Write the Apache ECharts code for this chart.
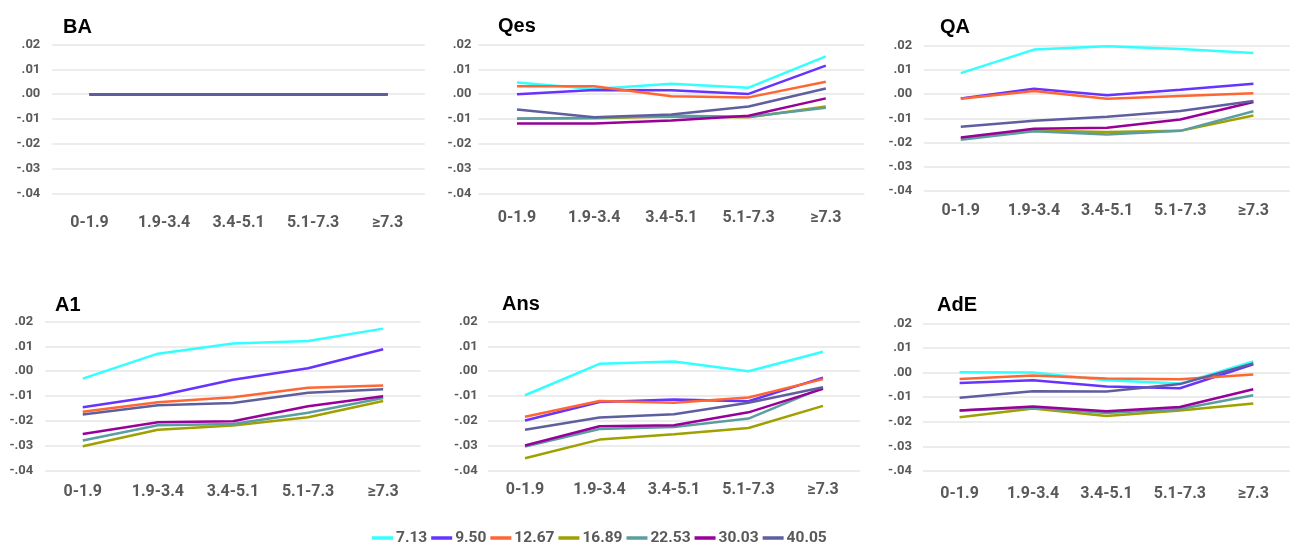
<!DOCTYPE html>
<html>
<head>
<meta charset="utf-8">
<script src="https://cdn.jsdelivr.net/npm/echarts@6/dist/echarts.min.js"></script>
<style>
html,body{margin:0;padding:0;background:#fff;}
#c{width:1290px;height:548px;}
</style>
</head>
<body>
<div id="c"></div>
<script>
// ---- data ----
const categories = ['0-1.9', '1.9-3.4', '3.4-5.1', '5.1-7.3', '≥7.3'];
const seriesNames = ['7.13', '9.50', '12.67', '16.89', '22.53', '30.03', '40.05'];
const yTickLabels = ['.02', '.01', '.00', '-.01', '-.02', '-.03', '-.04'];
const panelTitles = ['BA', 'Qes', 'QA', 'A1', 'Ans', 'AdE'];

// each panel: one array per series, in seriesNames order
const BA = [
  [0, 0, 0, 0, 0],
  [0, 0, 0, 0, 0],
  [0, 0, 0, 0, 0],
  [0, 0, 0, 0, 0],
  [0, 0, 0, 0, 0],
  [0, 0, 0, 0, 0],
  [0, 0, 0, 0, 0]
];
const Qes = [
  [0.0047, 0.0021, 0.0042, 0.0026, 0.0152],
  [0.0000, 0.0017, 0.0016, 0.0001, 0.0115],
  [0.0032, 0.0032, -0.0008, -0.0013, 0.0050],
  [-0.0098, -0.0097, -0.0090, -0.0093, -0.0050],
  [-0.0099, -0.0095, -0.0087, -0.0091, -0.0055],
  [-0.0118, -0.0118, -0.0106, -0.0087, -0.0017],
  [-0.0062, -0.0093, -0.0082, -0.0050, 0.0023]
];
const QA = [
  [0.0086, 0.0183, 0.0197, 0.0186, 0.0169],
  [-0.0018, 0.0022, -0.0005, 0.0018, 0.0042],
  [-0.0020, 0.0012, -0.0020, -0.0008, 0.0003],
  [-0.0184, -0.0152, -0.0157, -0.0152, -0.0089],
  [-0.0189, -0.0154, -0.0167, -0.0152, -0.0071],
  [-0.0179, -0.0143, -0.0139, -0.0105, -0.0033],
  [-0.0135, -0.0110, -0.0094, -0.0070, -0.0029]
];
const A1 = [
  [-0.0030, 0.0071, 0.0112, 0.0122, 0.0172],
  [-0.0145, -0.0100, -0.0034, 0.0012, 0.0089],
  [-0.0164, -0.0125, -0.0105, -0.0067, -0.0058],
  [-0.0303, -0.0236, -0.0219, -0.0186, -0.0120],
  [-0.0280, -0.0218, -0.0213, -0.0168, -0.0108],
  [-0.0253, -0.0206, -0.0202, -0.0141, -0.0101],
  [-0.0175, -0.0137, -0.0128, -0.0087, -0.0073]
];
const Ans = [
  [-0.0097, 0.0030, 0.0039, 0.0000, 0.0079],
  [-0.0199, -0.0124, -0.0114, -0.0121, -0.0026],
  [-0.0184, -0.0120, -0.0127, -0.0106, -0.0032],
  [-0.0351, -0.0276, -0.0254, -0.0229, -0.0140],
  [-0.0304, -0.0233, -0.0225, -0.0191, -0.0066],
  [-0.0300, -0.0222, -0.0218, -0.0166, -0.0071],
  [-0.0236, -0.0187, -0.0174, -0.0127, -0.0065]
];
const AdE = [
  [0.0001, 0.0000, -0.0031, -0.0045, 0.0045],
  [-0.0043, -0.0031, -0.0057, -0.0064, 0.0033],
  [-0.0026, -0.0012, -0.0024, -0.0027, -0.0008],
  [-0.0182, -0.0146, -0.0177, -0.0154, -0.0126],
  [-0.0154, -0.0142, -0.0164, -0.0148, -0.0092],
  [-0.0154, -0.0138, -0.0157, -0.0140, -0.0068],
  [-0.0102, -0.0076, -0.0077, -0.0047, 0.0037]
];
const panelData = [BA, Qes, QA, A1, Ans, AdE];

// ---- style / layout ----
const colors = ['#33FFFF', '#6633FF', '#FF6633', '#A0A000', '#5B9EA0', '#990099', '#5F5F9F'];
const lblFont = "Roboto,'Liberation Sans',sans-serif";
const gray = '#595959';

const layout = [
  {left: 52.3, width: 372.5, top: 44.5, height: 149, ym: 12, xm: 21, tx: 63, ty: 17},
  {left: 478.4, width: 386, top: 44.5, height: 149, ym: 7, xm: 16, tx: 498, ty: 16},
  {left: 924.2, width: 375.5, top: 45.5, height: 145.5, ym: 12, xm: 12, tx: 940, ty: 17},
  {left: 45.2, width: 375.5, top: 321.7, height: 148.6, ym: 12, xm: 14, tx: 55, ty: 295},
  {left: 487.75, width: 372.5, top: 321.7, height: 148.6, ym: 10, xm: 12, tx: 502, ty: 294},
  {left: 922.9, width: 381, top: 323.3, height: 147.7, ym: 11, xm: 15, tx: 937, ty: 295}
];

const grids = [], xAxes = [], yAxes = [], titles = [], series = [];
layout.forEach((L, p) => {
  grids.push({left: L.left, top: L.top, width: L.width, height: L.height, containLabel: false});
  titles.push({
    text: panelTitles[p], left: L.tx, top: L.ty, padding: 0,
    textStyle: {fontFamily: "'Liberation Sans',Arial,sans-serif", fontWeight: 'bold', fontSize: 20, color: '#000'}
  });
  xAxes.push({
    type: 'category', gridIndex: p, data: categories, boundaryGap: true,
    axisLine: {show: false}, axisTick: {show: false},
    axisLabel: {margin: L.xm, fontFamily: lblFont, fontWeight: 'bold', fontSize: 16, color: gray, interval: 0}
  });
  yAxes.push({
    type: 'value', gridIndex: p, min: -0.04, max: 0.02, interval: 0.01,
    axisLine: {show: false}, axisTick: {show: false},
    splitLine: {show: true, lineStyle: {color: '#E6E6E6', width: 1.5}},
    axisLabel: {
      margin: L.ym, fontFamily: lblFont, fontWeight: 'bold', fontSize: 13, color: gray,
      formatter: v => yTickLabels[Math.round((0.02 - v) / 0.01)]
    }
  });
  panelData[p].forEach((vals, s) => {
    series.push({
      name: seriesNames[s], type: 'line', xAxisIndex: p, yAxisIndex: p,
      data: vals, symbol: 'none', smooth: false,
      lineStyle: {width: 2.5, color: colors[s]}, itemStyle: {color: colors[s]},
      emphasis: {disabled: true}, animation: false
    });
  });
});

const chart = echarts.init(document.getElementById('c'), null, {renderer: 'canvas'});
chart.setOption({
  animation: false,
  color: colors,
  title: titles,
  grid: grids,
  xAxis: xAxes,
  yAxis: yAxes,
  legend: {
    data: seriesNames, left: 372, top: 530, icon: 'rect', itemWidth: 21, itemHeight: 3.5,
    itemGap: 4, padding: 0, selectedMode: false,
    textStyle: {fontFamily: lblFont, fontWeight: 'bold', fontSize: 15.5, color: gray, padding: [0, 0, 0, -2]}
  },
  series: series
});
</script>
</body>
</html>
